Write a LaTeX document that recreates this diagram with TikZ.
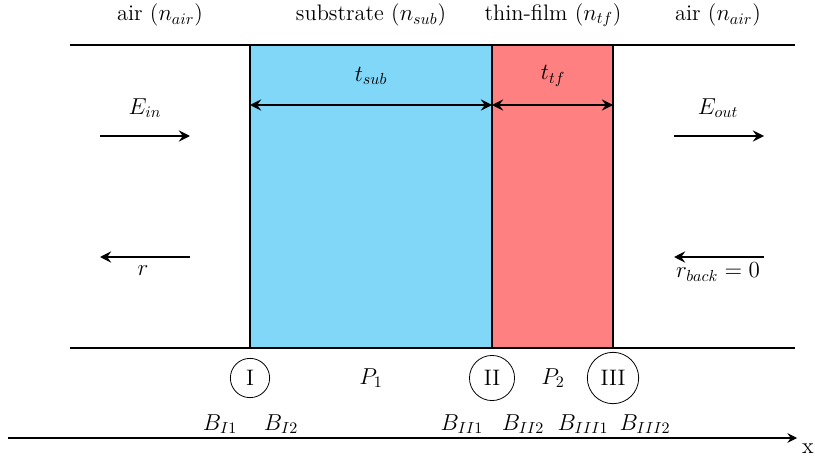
\documentclass[tikz,border=0pt]{standalone}
\usetikzlibrary{arrows.meta}
\definecolor{subblue}{RGB}{128,215,248}
\definecolor{tfred}{RGB}{255,128,128}
\tikzset{
  arr/.style={line width=1.1pt,-{Stealth[length=7pt,width=7pt,inset=2.5pt]}},
  dim/.style={line width=1.1pt,{Stealth[length=7pt,width=7pt,inset=2.5pt]}-{Stealth[length=7pt,width=7pt,inset=2.5pt]}},
  edge/.style={line width=1.1pt},
  lab/.style={inner sep=1pt},
  iface/.style={circle,draw,line width=0.5pt,inner sep=5pt,minimum size=24pt}
}
\begin{document}
\begin{tikzpicture}[x=0.625pt,y=-0.625pt,font=\fontsize{14}{17}\selectfont]
\useasboundingbox (0,0) rectangle (815,462);
% layers
\fill[subblue] (250,45) rectangle (492,348);
\fill[tfred] (492,45) rectangle (613,348);
\coordinate (tl) at (70,45);
\coordinate (tr) at (795,45);
\coordinate (bl) at (70,348);
\coordinate (br) at (795,348);
\draw[edge] (tl) -- (tr);
\draw[edge] (bl) -- (br);
\coordinate (s1t) at (250,45); \coordinate (s1b) at (250,348);
\coordinate (s2t) at (492,45); \coordinate (s2b) at (492,348);
\coordinate (s3t) at (613,45); \coordinate (s3b) at (613,348);
\draw[edge] (s1t) -- (s1b);
\draw[edge] (s2t) -- (s2b);
\draw[edge] (s3t) -- (s3b);
% top labels
\node[lab] (l1) at (160,15) {air ($n_{air}$)};
\node[lab] (l2) at (371,15) {substrate ($n_{sub}$)};
\node[lab] (l3) at (553,15) {thin-film ($n_{tf}$)};
\node[lab] (l4) at (718,15) {air ($n_{air}$)};
% thickness
\coordinate (d1) at (250,105); \coordinate (d2) at (492,105); \coordinate (d3) at (613,105);
\draw[dim] (d1) -- (d2);
\draw[dim] (d2) -- (d3);
\node[lab] (tsub) at (371,76) {$t_{sub}$};
\node[lab] (ttf) at (553,76) {$t_{tf}$};
% field arrows
\coordinate (ein1) at (100,136); \coordinate (ein2) at (190,136);
\draw[arr] (ein1) -- (ein2);
\node[lab] (ein) at (145,108) {$E_{in}$};
\coordinate (r1) at (190,257); \coordinate (r2) at (100,257);
\draw[arr] (r1) -- (r2);
\node[lab] (r) at (143,271) {$r$};
\coordinate (eo1) at (674,136); \coordinate (eo2) at (764,136);
\draw[arr] (eo1) -- (eo2);
\node[lab] (eout) at (718,108) {$E_{out}$};
\coordinate (rb1) at (764,257); \coordinate (rb2) at (674,257);
\draw[arr] (rb1) -- (rb2);
\node[lab] (rback) at (718,272) {$r_{back}=0$};
% interfaces
\node[iface] (I) at (250,378) {I};
\node[iface] (II) at (492,378) {II};
\node[iface] (III) at (613,378) {III};
\node[lab] (P1) at (371,378) {$P_1$};
\node[lab] (P2) at (553,378) {$P_2$};
% boundaries
\node[lab] (bi1) at (220,424) {$B_{I1}$};
\node[lab] (bi2) at (281,424) {$B_{I2}$};
\node[lab] (bii1) at (462,424) {$B_{II1}$};
\node[lab] (bii2) at (523,424) {$B_{II2}$};
\node[lab] (biii1) at (583,424) {$B_{III1}$};
\node[lab] (biii2) at (645,424) {$B_{III2}$};
% axis
\coordinate (ax1) at (8,438); \coordinate (ax2) at (797,438);
\draw[line width=0.8pt,-{Stealth[length=6pt,width=6pt,inset=2pt]}] (ax1) -- (ax2);
\node[lab] (xl) at (808,449) {x};
\end{tikzpicture}
\end{document}
